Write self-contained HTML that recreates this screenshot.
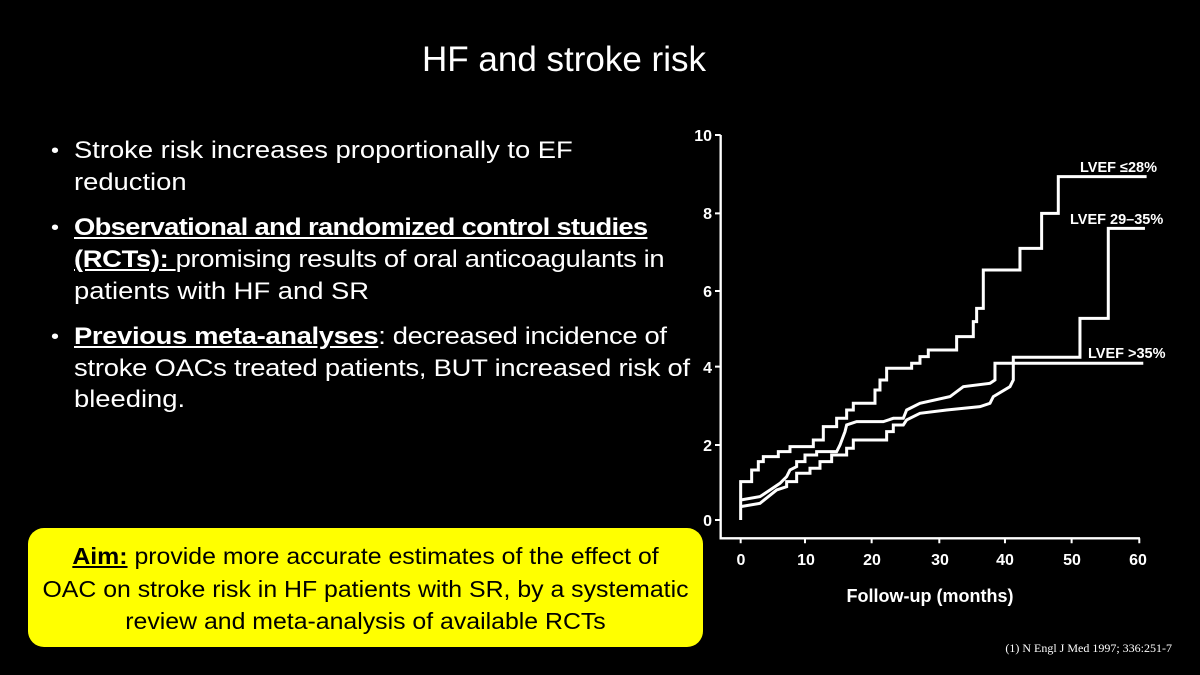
<!DOCTYPE html>
<html><head><meta charset="utf-8"><style>
body{margin:0;width:1200px;height:675px;background:#000;overflow:hidden;position:relative;font-family:"Liberation Sans",sans-serif;color:#fff}
.t{position:absolute;white-space:nowrap;font-size:24px;line-height:28px;transform:scaleX(1.14);transform-origin:left center}
.b{font-weight:bold;text-decoration:underline}
.box{position:absolute;left:28px;top:528px;width:675px;height:119px;background:#ffff00;border-radius:16px;color:#000}
.box div{position:absolute;width:100%;text-align:center;font-size:23px;line-height:28px;white-space:nowrap;transform:scaleX(1.08);transform-origin:center}
</style></head><body>
<div class="t" style="left:0;width:1128px;text-align:center;top:40px;font-size:35px;line-height:40px;transform:none">HF and stroke risk</div>
<div class="t" style="left:51px;top:137px;font-size:20px">•</div>
<div class="t" style="left:74px;top:137px">Stroke risk increases proportionally to EF</div>
<div class="t" style="left:74px;top:169px">reduction</div>
<div class="t" style="left:51px;top:214px;font-size:20px">•</div>
<div class="t" style="left:74px;top:214px;letter-spacing:-0.6px"><span class="b">Observational and randomized control studies</span></div>
<div class="t" style="left:74px;top:246px;letter-spacing:-0.3px"><span class="b">(RCTs): </span>promising results of oral anticoagulants in</div>
<div class="t" style="left:74px;top:278px">patients with HF and SR</div>
<div class="t" style="left:51px;top:323px;font-size:20px">•</div>
<div class="t" style="left:74px;top:323px;letter-spacing:-0.3px"><span class="b">Previous meta-analyses</span>: decreased incidence of</div>
<div class="t" style="left:74px;top:355px;letter-spacing:-0.2px">stroke OACs treated patients, BUT increased risk of</div>
<div class="t" style="left:74px;top:386px">bleeding.</div>

<svg style="position:absolute;left:0;top:0" width="1200" height="675">
<g transform="translate(680,120) scale(0.3333)" fill="none" stroke="#fff" stroke-width="9">
<path d="M122,45 V1255 H1380" stroke-width="7"/>
<path d="M122,45H105M122,280H105M122,513H105M122,740H105M122,975H105M122,1200H105" stroke-width="6"/>
<path d="M182,1255v15M375,1255v15M575,1255v15M778,1255v15M975,1255v15M1175,1255v15M1378,1255v15" stroke-width="6"/>
<path d="M182,1200V1085H215V1050H235V1025H250V1010H295V995H330V980H400V960H430V920H470V895H500V870H520V850H585V810H600V780H620V745H695V730H720V710H745V690H830V650H880V605H890V565H910V450H1020V385H1085V280H1135V170H1400"/>
<path d="M182,1140L240,1130L270,1110L300,1090L320,1070L330,1050L350,1040V1025H375V1005H410V995H470L480,975L495,935L500,915L530,905H610L640,895H670L680,870L720,850L810,830L850,800L930,790L945,780V730H1000V712H1200V595H1285V325H1395"/>
<path d="M182,1160L240,1150L290,1110L320,1100V1085H350V1060H390V1045H420V1025H455V1005H500V985H520V960H620V935H640V915H670L680,900L720,880L800,870L900,860L930,850L940,830L990,800L1000,780V730H1390"/>
</g>
<g fill="#fff" font-family="Liberation Sans,sans-serif" font-size="16" font-weight="bold" text-anchor="end">
<text x="712" y="141">10</text><text x="712" y="219">8</text><text x="712" y="297">6</text><text x="712" y="373">4</text><text x="712" y="451">2</text><text x="712" y="526">0</text>
</g>
<g fill="#fff" font-family="Liberation Sans,sans-serif" font-size="16" font-weight="bold" text-anchor="middle">
<text x="741" y="565">0</text><text x="806" y="565">10</text><text x="872" y="565">20</text><text x="940" y="565">30</text><text x="1005" y="565">40</text><text x="1072" y="565">50</text><text x="1138" y="565">60</text>
<text x="930" y="602" font-size="18">Follow-up (months)</text>
</g>
<g fill="#fff" font-family="Liberation Sans,sans-serif" font-size="14.5" font-weight="bold">
<text x="1080" y="172">LVEF ≤28%</text>
<text x="1070" y="224">LVEF 29–35%</text>
<text x="1088" y="358">LVEF &gt;35%</text>
</g>
<text x="1172" y="652" fill="#fff" font-family="Liberation Serif,serif" font-size="12" text-anchor="end">(1) N Engl J Med 1997; 336:251-7</text>
</svg>

<div class="box">
<div style="top:14px"><span class="b">Aim:</span>  provide more accurate estimates of the effect of</div>
<div style="top:47px">OAC on stroke risk in HF patients with SR, by a systematic</div>
<div style="top:79px">review and meta-analysis of available RCTs</div>
</div>
</body></html>
